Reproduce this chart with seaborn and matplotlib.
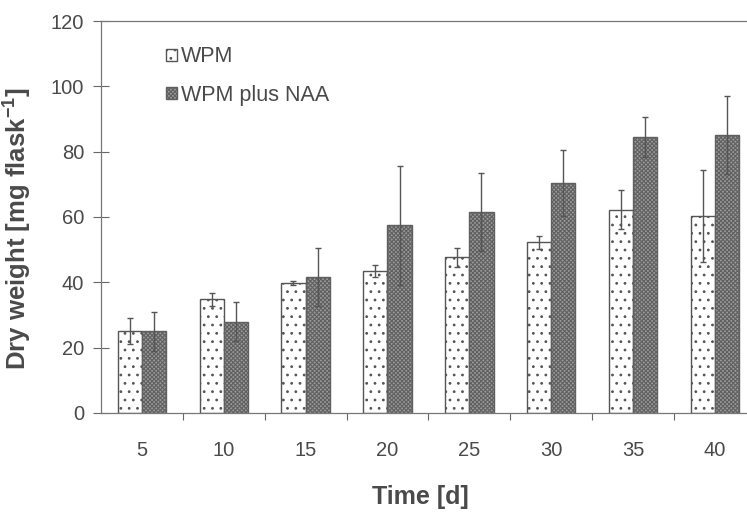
import matplotlib
matplotlib.use("Agg")
import matplotlib.pyplot as plt
import seaborn as sns
import pandas as pd
import numpy as np
from matplotlib.patches import Patch

days = ["5", "10", "15", "20", "25", "30", "35", "40"]
wpm = [25.0, 34.8, 39.8, 43.5, 47.6, 52.3, 62.2, 60.3]
wpm_err = [4.0, 2.0, 0.7, 1.8, 2.8, 2.0, 6.0, 14.0]
naa = [25.0, 27.9, 41.7, 57.5, 61.6, 70.4, 84.5, 85.2]
naa_err = [6.0, 6.0, 8.8, 18.2, 12.0, 10.0, 6.0, 12.0]
series = ["WPM", "WPM plus NAA"]

df = pd.DataFrame({
    "day": days * 2,
    "value": wpm + naa,
    "series": [series[0]] * len(days) + [series[1]] * len(days),
})

sns.set_style("white")
plt.rcParams["font.family"] = ["Liberation Sans", "DejaVu Sans"]
plt.rcParams["hatch.linewidth"] = 0.8

gray = "#4a4a4a"
fig = plt.figure(figsize=(7.47, 5.13), dpi=100)
ax = fig.add_axes([0.135, 0.195, 1.012 - 0.135, 0.959 - 0.195])

sns.barplot(data=df, x="day", y="value", hue="series", order=days,
            hue_order=series, palette=["white", "#9c9c9c"], width=0.59,
            errorbar=None, legend=False, ax=ax, saturation=1)

styles = {series[0]: dict(face="white", hatch="..", hcol="#555555"),
          series[1]: dict(face="#9a9a9a", hatch="xxxxxxxx", hcol="#606060")}
errs = {series[0]: wpm_err, series[1]: naa_err}
vals = {series[0]: wpm, series[1]: naa}
for cont, s in zip(ax.containers, series):
    xs = []
    for bar in cont:
        bar.set_facecolor(styles[s]["face"])
        bar.set_hatch(styles[s]["hatch"])
        bar.set_edgecolor(styles[s]["hcol"])
        bar.set_linewidth(1.0)
        xs.append(bar.get_x() + bar.get_width() / 2)
    ax.errorbar(xs, vals[s], yerr=errs[s], fmt="none", ecolor="#555555",
                elinewidth=1.0, capsize=2.5, capthick=1.0, zorder=5)

ax.set_ylim(0, 120)
ax.set_xlim(-0.5, 7.5)
ax.set_yticks(np.arange(0, 121, 20))
ax.set_xticks(range(len(days)))
ax.set_xticklabels(days)
ax.set_xticks(np.arange(0.5, 7.5, 1.0), minor=True)
ax.tick_params(axis="x", which="major", length=0, pad=20, labelsize=14.5, labelcolor=gray)
ax.tick_params(axis="x", which="minor", length=5, width=0.8, color="#666666", direction="out", bottom=True)
ax.tick_params(axis="y", which="major", length=12, width=0.8, color="#666666", direction="inout",
               left=True, labelsize=14.5, labelcolor=gray, pad=6)

for side in ["left", "bottom", "top"]:
    ax.spines[side].set_color("#777777")
    ax.spines[side].set_linewidth(0.9)
ax.spines["right"].set_visible(False)

ax.set_ylabel("Dry weight [mg flask$^{\\mathregular{-1}}$]", fontsize=18.5, fontweight="bold",
              color=gray)
ax.yaxis.set_label_coords(-0.103, 0.47)
ax.set_xlabel("Time [d]", fontsize=18, fontweight="bold", color=gray)
ax.xaxis.set_label_coords(0.487, -0.185)

handles = [Patch(facecolor=styles[s]["face"], edgecolor=styles[s]["hcol"], hatch=styles[s]["hatch"])
           for s in series]
leg = ax.legend(handles, series, loc="upper left", bbox_to_anchor=(0.07, 0.985), frameon=False,
                fontsize=15.5, handlelength=0.5, handleheight=0.5, handletextpad=0.2,
                labelspacing=0.8)
for t in leg.get_texts():
    t.set_color(gray)

fig.savefig("out.png", dpi=100)
